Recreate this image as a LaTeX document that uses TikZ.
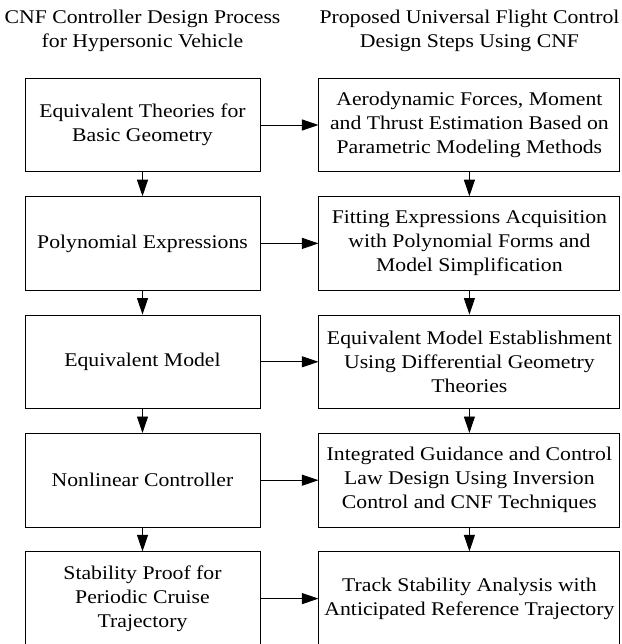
\documentclass[tikz,border=0pt]{standalone}
\usepackage{fontspec}
\setmainfont{Liberation Serif}[FakeStretch=1.12]
\usepackage{tikz}
\usetikzlibrary{arrows.meta,positioning}

\begin{document}
\begin{tikzpicture}[x=1pt,y=1pt,
  every node/.style={font=\fontsize{19.4}{24}\selectfont},
  stage/.style={draw,line width=0.9pt,align=center,minimum height=93.5pt,inner sep=2pt},
  leftstage/.style={stage,minimum width=235pt},
  rightstage/.style={stage,minimum width=301pt},
  flow/.style={-{Triangle[length=16.5pt,width=11pt]},line width=0.9pt}]
\useasboundingbox (0,0) rectangle (621,-644);

\node[align=center](titleL) at (142.5,-31) {CNF Controller Design Process\\for Hypersonic Vehicle};
\node[align=center](titleR) at (469.5,-31) {Proposed Universal Flight Control\\Design Steps Using CNF};

\node[leftstage](geom) at (142.5,-125) {Equivalent Theories for\\Basic Geometry};
\node[leftstage,below=24pt of geom](poly) {Polynomial Expressions};
\node[leftstage,below=24pt of poly](equiv) {Equivalent Model};
\node[leftstage,below=24pt of equiv](ctrl) {Nonlinear Controller};
\node[leftstage,below=24pt of ctrl](proof) {Stability Proof for\\Periodic Cruise\\Trajectory};

\node[rightstage,right=58pt of geom](aero) {Aerodynamic Forces, Moment\\and Thrust Estimation Based on\\Parametric Modeling Methods};
\node[rightstage,right=58pt of poly](fit) {Fitting Expressions Acquisition\\with Polynomial Forms and\\Model Simplification};
\node[rightstage,right=58pt of equiv](diff) {Equivalent Model Establishment\\Using Differential Geometry\\Theories};
\node[rightstage,right=58pt of ctrl](igc) {Integrated Guidance and Control\\Law Design Using Inversion\\Control and CNF Techniques};
\node[rightstage,right=58pt of proof](track) {Track Stability Analysis with\\Anticipated Reference Trajectory};

% down the columns
\draw[flow] (geom) -- (poly);
\draw[flow] (poly) -- (equiv);
\draw[flow] (equiv) -- (ctrl);
\draw[flow] (ctrl) -- (proof);
\draw[flow] (aero) -- (fit);
\draw[flow] (fit) -- (diff);
\draw[flow] (diff) -- (igc);
\draw[flow] (igc) -- (track);

% across
\draw[flow] (geom) -- (aero);
\draw[flow] (poly) -- (fit);
\draw[flow] (equiv) -- (diff);
\draw[flow] (ctrl) -- (igc);
\draw[flow] (proof) -- (track);

\end{tikzpicture}
\end{document}
